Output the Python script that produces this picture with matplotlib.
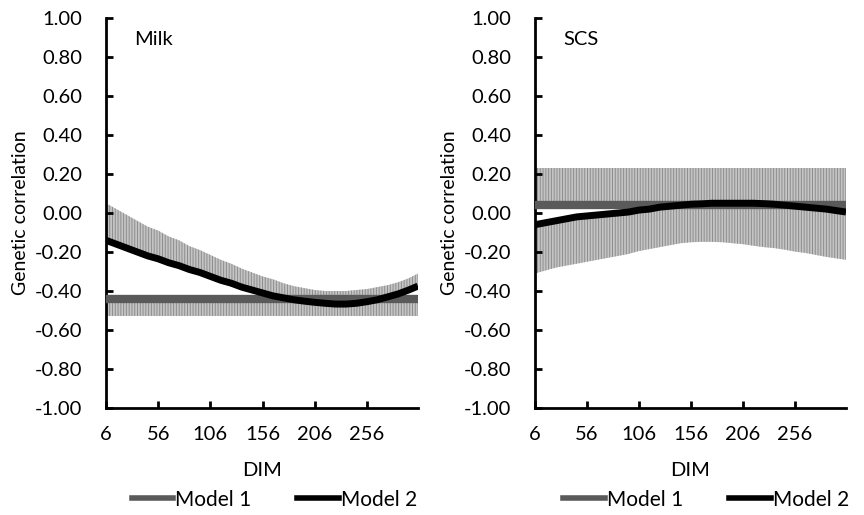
import matplotlib
matplotlib.use("Agg")
import matplotlib.pyplot as plt
from matplotlib.lines import Line2D

plt.rcParams['font.family'] = ['Lato', 'DejaVu Sans']
plt.rcParams['hatch.linewidth'] = 0.7

# Days in milk, read every 10 days
dim = [6, 16, 26, 36, 46, 56, 66, 76, 86, 96, 106, 116, 126, 136, 146, 156,
       166, 176, 186, 196, 206, 216, 226, 236, 246, 256, 266, 276, 286, 296, 305]

# Milk panel
milk_m1 = -0.44
milk_m1_low = -0.53
milk_m2 = [-0.14, -0.16, -0.18, -0.20, -0.22, -0.235, -0.255, -0.27, -0.29, -0.305,
           -0.325, -0.345, -0.36, -0.38, -0.395, -0.41, -0.425, -0.435, -0.445,
           -0.452, -0.458, -0.463, -0.467, -0.467, -0.463, -0.455, -0.445, -0.43,
           -0.415, -0.395, -0.375]
milk_m2_up = [0.05, 0.02, -0.01, -0.04, -0.07, -0.09, -0.12, -0.14, -0.17, -0.19,
              -0.215, -0.24, -0.26, -0.285, -0.305, -0.325, -0.34, -0.36, -0.375,
              -0.385, -0.395, -0.40, -0.40, -0.40, -0.395, -0.39, -0.38, -0.37,
              -0.355, -0.335, -0.31]

# SCS panel
scs_m1 = 0.04
scs_m1_up = 0.23
scs_m2 = [-0.06, -0.05, -0.04, -0.03, -0.02, -0.015, -0.01, -0.005, 0.0, 0.005,
          0.015, 0.02, 0.03, 0.035, 0.04, 0.045, 0.047, 0.05, 0.05, 0.05, 0.05,
          0.05, 0.048, 0.045, 0.04, 0.035, 0.03, 0.025, 0.02, 0.012, 0.005]
scs_m2_low = [-0.31, -0.295, -0.28, -0.27, -0.26, -0.25, -0.24, -0.23, -0.22, -0.21,
              -0.195, -0.185, -0.175, -0.165, -0.155, -0.15, -0.148, -0.148, -0.15,
              -0.155, -0.16, -0.168, -0.175, -0.18, -0.188, -0.198, -0.205, -0.215,
              -0.225, -0.233, -0.24]

xticks = [6, 56, 106, 156, 206, 256]
yticks = [-1.0, -0.8, -0.6, -0.4, -0.2, 0.0, 0.2, 0.4, 0.6, 0.8, 1.0]

c_m1 = '#5a5a5a'
c_m2 = '#000000'
band_face = '#c4c4c4'
band_hatch = '#8e8e8e'
fs = 14.5

fig = plt.figure(figsize=(8.64, 5.15), dpi=100)
W, H = 864, 515
ax1 = fig.add_axes([106 / W, 1 - 408 / H, 312 / W, 390 / H])
ax2 = fig.add_axes([535 / W, 1 - 408 / H, 311 / W, 390 / H])


def band(ax, lo, hi):
    ax.fill_between(dim, lo, hi, facecolor=band_face, edgecolor=band_hatch,
                    hatch='||||||', linewidth=0, zorder=1)


# Milk
band(ax1, [milk_m1_low] * len(dim), [milk_m1] * len(dim))
band(ax1, milk_m2, milk_m2_up)
ax1.plot([dim[0], dim[-1]], [milk_m1, milk_m1], color=c_m1, lw=6, zorder=3,
         solid_capstyle='butt')
ax1.plot(dim, milk_m2, color=c_m2, lw=5, zorder=4, solid_capstyle='butt')

# SCS
band(ax2, [scs_m1] * len(dim), [scs_m1_up] * len(dim))
band(ax2, scs_m2_low, scs_m2)
ax2.plot([dim[0], dim[-1]], [scs_m1, scs_m1], color=c_m1, lw=6, zorder=3,
         solid_capstyle='butt')
ax2.plot(dim, scs_m2, color=c_m2, lw=5, zorder=4, solid_capstyle='butt')

for ax, name, lx in [(ax1, 'Milk', 0.54), (ax2, 'SCS', 0.55)]:
    ax.set_xlim(6, 305)
    ax.set_ylim(-1.0, 1.0)
    ax.set_xticks(xticks)
    ax.set_yticks(yticks)
    ax.set_yticklabels(['%.2f' % v for v in yticks])
    for s in ['top', 'right']:
        ax.spines[s].set_visible(False)
    for s in ['left', 'bottom']:
        ax.spines[s].set_linewidth(2)
    ax.tick_params(direction='in', length=5, width=2, labelsize=fs)
    ax.tick_params(axis='y', pad=17)
    ax.tick_params(axis='x', pad=13)
    ax.set_xlabel('DIM', fontsize=fs, labelpad=14)
    ax.set_ylabel('Genetic correlation', fontsize=14, labelpad=4)
    ax.text(0.09, 0.945, name, transform=ax.transAxes, fontsize=fs,
            ha='left', va='center')
    handles = [Line2D([], [], color=c_m1, lw=4), Line2D([], [], color=c_m2, lw=4)]
    ax.legend(handles, ['Model 1', 'Model 2'], loc='center',
              bbox_to_anchor=(lx, -0.235), ncol=2, frameon=False, fontsize=15,
              handlelength=2.0, handletextpad=0.1, columnspacing=2.2)

fig.savefig('out.png', dpi=100)
